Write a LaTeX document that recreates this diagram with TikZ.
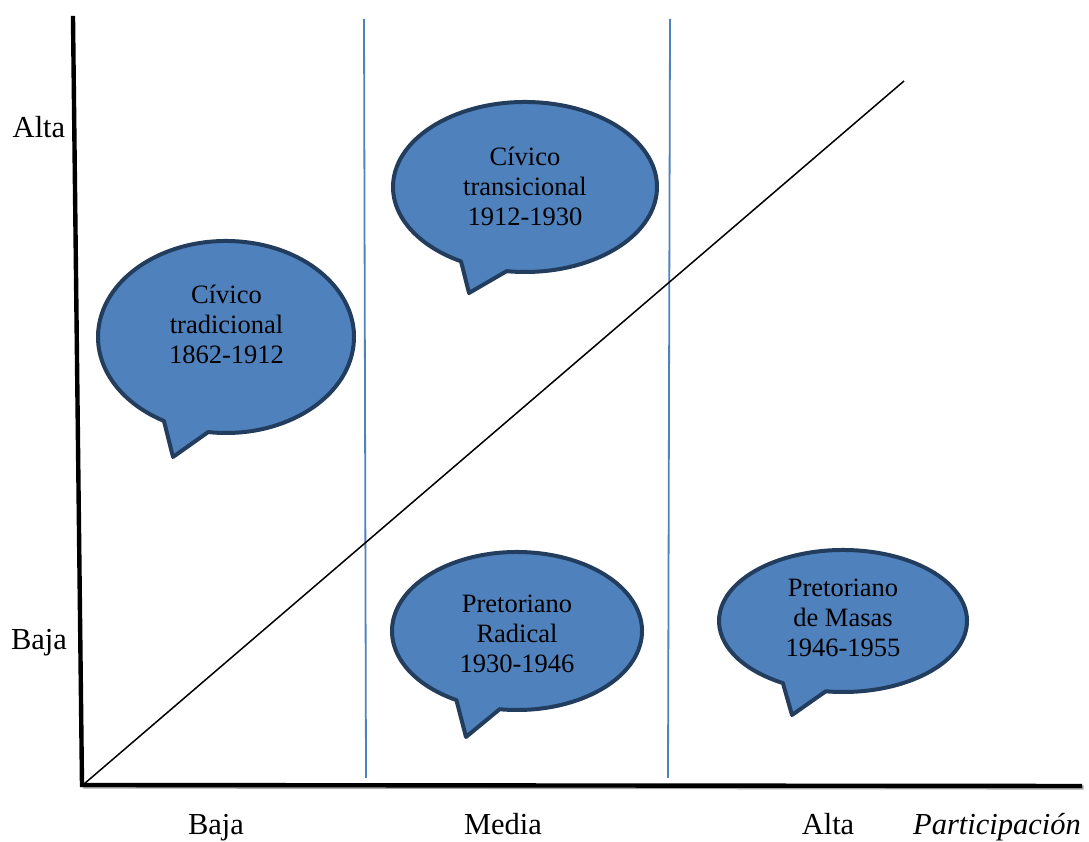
\documentclass[tikz,border=0pt]{standalone}
\usepackage{fontspec}
\setmainfont{Liberation Serif}
\definecolor{cfill}{HTML}{4F81BD}
\definecolor{cedge}{HTML}{223D5E}
\definecolor{divblue}{HTML}{4F81BD}
\tikzset{
  callout/.style={fill=cfill, draw=cedge, line width=4pt, line join=round},
  axisline/.style={line width=4.4pt, black},
  axisshadow/.style={line width=4.2pt, black!35},
  divider/.style={line width=1.8pt, divblue},
  diag/.style={line width=1.5pt, black},
  lbl/.style={font=\fontsize{30.5}{34}\selectfont, anchor=base, inner sep=0pt},
  ctext/.style={font=\fontsize{26.5}{30}\selectfont, align=center, inner sep=0pt},
}
\begin{document}
\begin{tikzpicture}[x=1pt,y=1pt]
\useasboundingbox (0,0) rectangle (1089,842);
% axes and guide lines
\coordinate (vtop) at (73,824);
\coordinate (orig) at (82,57);
\coordinate (hend) at (1082,56);
\coordinate (d1t) at (364,823);
\coordinate (d1b) at (366,64);
\coordinate (d2t) at (670,823);
\coordinate (d2b) at (668,64);
\coordinate (dgs) at (84,58);
\coordinate (dge) at (904,761);
\draw[divider] (d1t) -- (d1b);
\draw[divider] (d2t) -- (d2b);
\draw[diag] (dgs) -- (dge);
\draw[axisshadow] ([shift={(1.5,-1.5)}]orig) -- ([shift={(1.5,-1.5)}]hend);
\draw[axisline, line cap=rect] (vtop) -- (orig);
\draw[axisline] (orig) -- (hend);
% callouts
\coordinate (c1) at (226,505);
\coordinate (t1) at (173,385);
\draw[callout] (t1) -- ([shift={(262:128pt and 96pt)}]c1) arc[start angle=262,end angle=601,x radius=128pt,y radius=96pt] -- cycle;
\node[ctext] (n1) at (226.5,517.5) {Cívico\\tradicional\\1862-1912};
\coordinate (c2) at (525,655);
\coordinate (t2) at (469,549);
\draw[callout] (t2) -- ([shift={(262:132pt and 85pt)}]c2) arc[start angle=262,end angle=601,x radius=132pt,y radius=85pt] -- cycle;
\node[ctext] (n2) at (525,656) {Cívico\\transicional\\1912-1930};
\coordinate (c3) at (517,211);
\coordinate (t3) at (466,105);
\draw[callout] (t3) -- ([shift={(262:125pt and 79pt)}]c3) arc[start angle=262,end angle=601,x radius=125pt,y radius=79pt] -- cycle;
\node[ctext] (n3) at (517,208) {Pretoriano\\Radical\\1930-1946};
\coordinate (c4) at (843,221);
\coordinate (t4) at (792,127);
\draw[callout] (t4) -- ([shift={(262:124pt and 71pt)}]c4) arc[start angle=262,end angle=601,x radius=124pt,y radius=71pt] -- cycle;
\node[ctext] (n4) at (843,224.5) {Pretoriano\\de Masas\\1946-1955};
% axis labels
\node[lbl] (ya) at (39,704) {Alta};
\node[lbl] (yb) at (39,192) {Baja};
\node[lbl] (xb) at (216,7) {Baja};
\node[lbl] (xm) at (503,7) {Media};
\node[lbl] (xa) at (828,7) {Alta};
\node[lbl] (xp) at (997,7) {\itshape Participación};
\end{tikzpicture}
\end{document}
